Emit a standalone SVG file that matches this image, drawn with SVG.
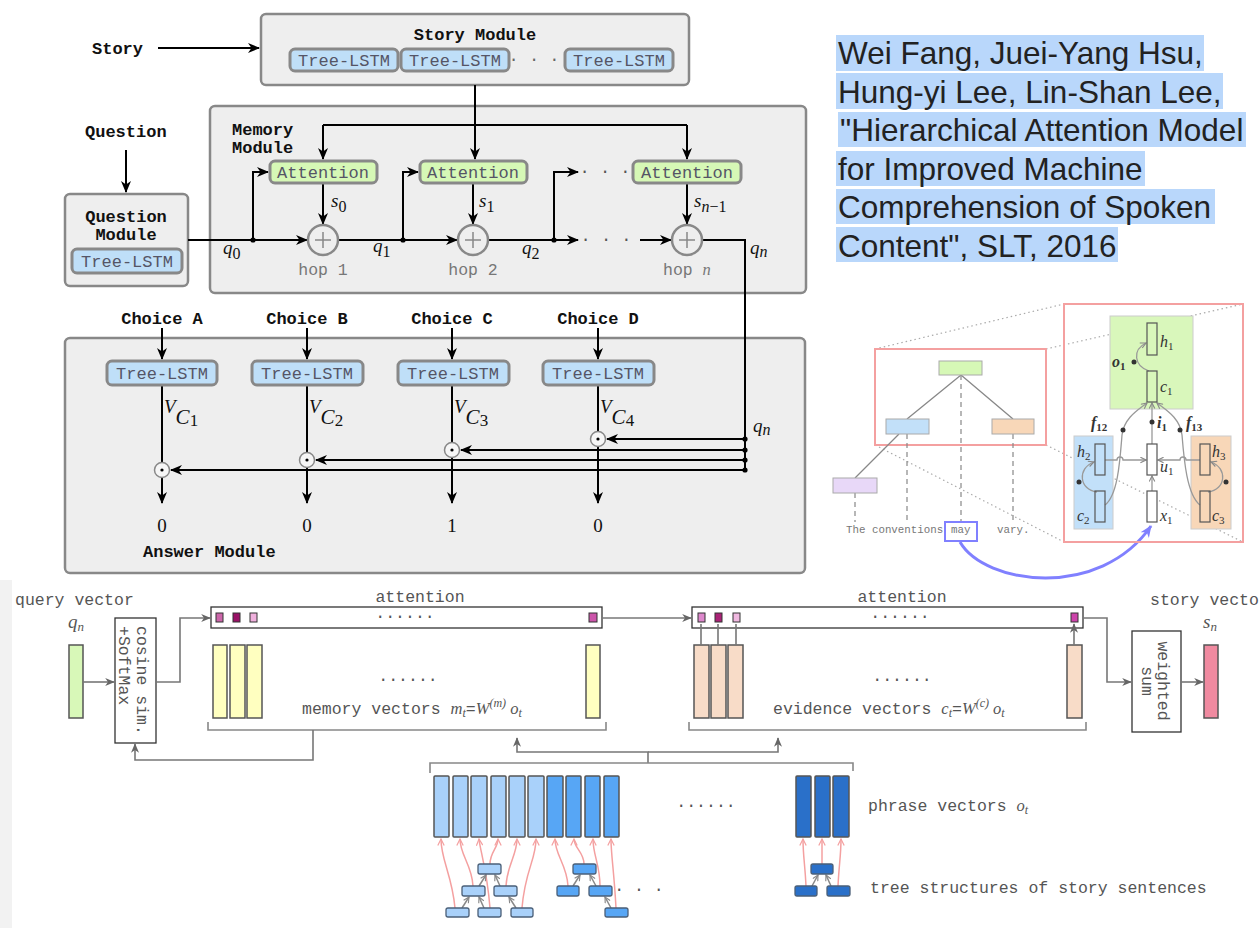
<svg xmlns="http://www.w3.org/2000/svg" width="1260" height="928" viewBox="0 0 1260 928">
<defs>
<marker id="a" viewBox="0 0 12 10" refX="11" refY="5" markerWidth="12" markerHeight="10" markerUnits="userSpaceOnUse" orient="auto"><path d="M0,0 L12,5 L0,10 L3.5,5 z" fill="#000"/></marker>
<marker id="g" viewBox="0 0 12 10" refX="11" refY="5" markerWidth="10" markerHeight="8" markerUnits="userSpaceOnUse" orient="auto"><path d="M0,0 L12,5 L0,10 L3.5,5 z" fill="#666"/></marker>
<marker id="p" viewBox="0 0 10 10" refX="9" refY="5" markerWidth="8" markerHeight="8" markerUnits="userSpaceOnUse" orient="auto"><path d="M1,1 L9,5 L1,9" fill="none" stroke="#f4a0a0" stroke-width="1.5"/></marker>
<marker id="gc" viewBox="0 0 10 10" refX="9" refY="5" markerWidth="7" markerHeight="7" markerUnits="userSpaceOnUse" orient="auto"><path d="M1,1 L9,5 L1,9" fill="none" stroke="#888" stroke-width="1.6"/></marker>
<marker id="bl" viewBox="0 0 12 10" refX="11" refY="5" markerWidth="12" markerHeight="10" markerUnits="userSpaceOnUse" orient="auto"><path d="M0,0 L12,5 L0,10 L3.5,5 z" fill="#8080ff"/></marker>
</defs>
<style>
.mod{fill:#eeeeee;stroke:#888;stroke-width:2.5}
.tl{fill:#bfdff8;stroke:#888;stroke-width:3}
.att{fill:#d6f8b6;stroke:#888;stroke-width:3}
.bt{font-family:"Liberation Mono","DejaVu Sans Mono",monospace;font-weight:bold;font-size:17px;fill:#111}
.bx{font-family:"Liberation Mono","DejaVu Sans Mono",monospace;font-size:17px;fill:#556}
.gt{font-family:"Liberation Mono","DejaVu Sans Mono",monospace;font-size:16.5px;fill:#555}
.m{font-family:"Liberation Serif","DejaVu Serif",serif;font-style:italic;font-size:19px;fill:#111}
.up{font-style:normal}
.c{stroke:#000;stroke-width:2;fill:none}
.gl{stroke:#777;stroke-width:1.6;fill:none}
.br{stroke:#888;stroke-width:1.6;fill:none}
.pk{stroke:#f4a0a0;stroke-width:1.5;fill:none}
.ga{stroke:#888;stroke-width:1.5;fill:none}
.lg{stroke:#999;stroke-width:1.3;fill:none}
.dot{stroke:#aaa;stroke-width:1.2;stroke-dasharray:1.5 3;fill:none}
.dsh{stroke:#888;stroke-width:1.2;stroke-dasharray:5 4;fill:none}
.pl{fill:#eee;stroke:#888;stroke-width:2.5}
.od{fill:#f6f6f6;stroke:#888;stroke-width:1.5}
.vec{stroke:#555;stroke-width:1.5}
.sq{stroke:#333;stroke-width:1}
.nd{stroke:#4a5f78;stroke-width:1.3}
.cell{fill:none;stroke:#555;stroke-width:1.2}
.lm{font-family:"Liberation Serif","DejaVu Serif",serif;font-style:italic;font-size:16px;fill:#333}
.ttl{font-family:"Liberation Sans",Arial,sans-serif;font-size:31.5px;fill:#222}
</style>
<rect width="1260" height="928" fill="#fff"/>
<rect x="0" y="580" width="12" height="348" fill="#f2f2f2"/>

<!-- Title -->
<g id="title">
<rect x="836" y="35" width="368" height="36" fill="#b9d7fb"/>
<rect x="836" y="73" width="387" height="36" fill="#b9d7fb"/>
<rect x="838" y="112" width="408" height="35" fill="#b9d7fb"/>
<rect x="836" y="151" width="309" height="35" fill="#b9d7fb"/>
<rect x="836" y="189" width="379" height="35" fill="#b9d7fb"/>
<rect x="836" y="227" width="282" height="35" fill="#b9d7fb"/>
<text class="ttl" x="838" y="64">Wei Fang, Juei-Yang Hsu,</text>
<text class="ttl" x="838" y="102.5">Hung-yi Lee, Lin-Shan Lee,</text>
<text class="ttl" x="840" y="141">"Hierarchical Attention Model</text>
<text class="ttl" x="838" y="179.5">for Improved Machine</text>
<text class="ttl" x="838" y="218">Comprehension of Spoken</text>
<text class="ttl" x="838" y="256.5">Content", SLT, 2016</text>
</g>

<!-- Modules backgrounds -->
<g id="story-module">
<rect class="mod" x="261" y="14" width="428" height="71" rx="5"/>
<text class="bt" x="475" y="40" text-anchor="middle">Story Module</text>
<rect class="tl" x="290" y="49" width="108" height="22" rx="5"/>
<text class="bx" x="344" y="66" text-anchor="middle">Tree-LSTM</text>
<rect class="tl" x="401" y="49" width="108" height="22" rx="5"/>
<text class="bx" x="455" y="66" text-anchor="middle">Tree-LSTM</text>
<text class="bx" x="534" y="64" text-anchor="middle" style="fill:#666">· · ·</text>
<rect class="tl" x="565" y="49" width="108" height="22" rx="5"/>
<text class="bx" x="619" y="66" text-anchor="middle">Tree-LSTM</text>
</g>
<g id="story-label"><text class="bt" x="92" y="54">Story</text></g>
<g id="question-label"><text class="bt" x="85" y="137">Question</text></g>

<g id="memory-module">
<rect class="mod" x="210" y="106" width="596" height="187" rx="5"/>
<text class="bt" x="232" y="135">Memory</text>
<text class="bt" x="232" y="153">Module</text>
</g>
<g id="question-module">
<rect class="mod" x="65" y="194" width="123" height="92" rx="5"/>
<text class="bt" x="126" y="222" text-anchor="middle">Question</text>
<text class="bt" x="126" y="240" text-anchor="middle">Module</text>
<rect class="tl" x="72" y="249" width="110" height="24" rx="5"/>
<text class="bx" x="127" y="267" text-anchor="middle">Tree-LSTM</text>
</g>
<g id="answer-module">
<rect class="mod" x="65" y="338" width="740" height="235" rx="5"/>
<text class="bt" x="143" y="557">Answer Module</text>
</g>

<!-- Connectors (top) -->
<g id="connectors">
<path class="c" d="M158,48 H259" marker-end="url(#a)"/>
<path class="c" d="M126,150 V192" marker-end="url(#a)"/>
<path class="c" d="M475,85 V159" marker-end="url(#a)"/>
<path class="c" d="M323,125 H687"/>
<path class="c" d="M323,125 V159" marker-end="url(#a)"/>
<path class="c" d="M687,125 V159" marker-end="url(#a)"/>
<path class="c" d="M188,240 H307" marker-end="url(#a)"/>
<path class="c" d="M253,240 V172 H268" marker-end="url(#a)"/>
<path class="c" d="M338,240 H457" marker-end="url(#a)"/>
<path class="c" d="M403,240 V172 H418" marker-end="url(#a)"/>
<path class="c" d="M488,240 H578" marker-end="url(#a)"/>
<path class="c" d="M554,240 V172 H578" marker-end="url(#a)"/>
<path class="c" d="M640,240 H671" marker-end="url(#a)"/>
<path class="c" d="M323,183 V224" marker-end="url(#a)"/>
<path class="c" d="M473,183 V224" marker-end="url(#a)"/>
<path class="c" d="M687,183 V224" marker-end="url(#a)"/>
<path class="c" d="M702,240 H745 V470"/>
<circle cx="253" cy="240" r="2.6" fill="#000"/>
<circle cx="403" cy="240" r="2.6" fill="#000"/>
<circle cx="554" cy="240" r="2.6" fill="#000"/>
<!-- answer -->
<path class="c" d="M162,328 V359" marker-end="url(#a)"/>
<path class="c" d="M307,328 V359" marker-end="url(#a)"/>
<path class="c" d="M452,328 V359" marker-end="url(#a)"/>
<path class="c" d="M598,328 V359" marker-end="url(#a)"/>
<path class="c" d="M162,385 V462.5 M162,477.5 V503" marker-end="url(#a)"/>
<path class="c" d="M307,385 V452.5 M307,467.5 V503" marker-end="url(#a)"/>
<path class="c" d="M452,385 V442.5 M452,457.5 V503" marker-end="url(#a)"/>
<path class="c" d="M598,385 V431.5 M598,446.5 V503" marker-end="url(#a)"/>
<path class="c" d="M745,439 H607" marker-end="url(#a)"/>
<path class="c" d="M745,450 H461" marker-end="url(#a)"/>
<path class="c" d="M745,460 H316" marker-end="url(#a)"/>
<path class="c" d="M745,470 H171" marker-end="url(#a)"/>
<circle cx="745" cy="439" r="2.6" fill="#000"/>
<circle cx="745" cy="450" r="2.6" fill="#000"/>
<circle cx="745" cy="460" r="2.6" fill="#000"/>
<circle cx="745" cy="470" r="2.6" fill="#000"/>
</g>

<!-- Attention nodes -->
<g id="attention-1"><rect class="att" x="270" y="161" width="107" height="22" rx="5"/><text class="bx" x="323" y="178" text-anchor="middle">Attention</text></g>
<g id="attention-2"><rect class="att" x="420" y="161" width="107" height="22" rx="5"/><text class="bx" x="473" y="178" text-anchor="middle">Attention</text></g>
<g id="attention-n"><rect class="att" x="633" y="161" width="108" height="22" rx="5"/><text class="bx" x="687" y="178" text-anchor="middle">Attention</text></g>
<g id="dots-mem"><text class="bx" x="605" y="176" text-anchor="middle" style="fill:#555">· · ·</text><text class="bx" x="606" y="244" text-anchor="middle" style="fill:#555">· · ·</text></g>

<!-- hops -->
<g id="hop-1"><circle class="pl" cx="323" cy="240" r="15"/><path d="M315,240 H331 M323,232 V248" stroke="#888" stroke-width="1.5"/><text class="gt" x="323" y="275" text-anchor="middle" style="fill:#777">hop 1</text></g>
<g id="hop-2"><circle class="pl" cx="473" cy="240" r="15"/><path d="M465,240 H481 M473,232 V248" stroke="#888" stroke-width="1.5"/><text class="gt" x="473" y="275" text-anchor="middle" style="fill:#777">hop 2</text></g>
<g id="hop-n"><circle class="pl" cx="687" cy="240" r="15"/><path d="M679,240 H695 M687,232 V248" stroke="#888" stroke-width="1.5"/><text class="gt" x="663" y="275" style="fill:#777">hop <tspan font-family="Liberation Serif,serif" font-style="italic">n</tspan></text></g>

<!-- memory labels -->
<g id="mem-labels">
<text class="m" x="331" y="207">s<tspan class="up" font-size="16" dy="5">0</tspan></text>
<text class="m" x="479" y="207">s<tspan class="up" font-size="16" dy="5">1</tspan></text>
<text class="m" x="694" y="207">s<tspan font-size="16" dy="5">n</tspan><tspan class="up" font-size="16">−1</tspan></text>
<text class="m" x="223" y="254">q<tspan class="up" font-size="16" dy="5">0</tspan></text>
<text class="m" x="373" y="252">q<tspan class="up" font-size="16" dy="5">1</tspan></text>
<text class="m" x="522" y="254">q<tspan class="up" font-size="16" dy="5">2</tspan></text>
<text class="m" x="750" y="254">q<tspan font-size="16" dy="3">n</tspan></text>
<text class="m" x="753" y="432">q<tspan font-size="16" dy="3">n</tspan></text>
</g>

<!-- choices -->
<g id="choice-a">
<text class="bt" x="162" y="324" text-anchor="middle">Choice A</text>
<rect class="tl" x="107" y="361" width="110" height="24" rx="5"/><text class="bx" x="162" y="379" text-anchor="middle">Tree-LSTM</text>
<text class="m" x="164" y="413" font-size="14">V<tspan font-size="21" dy="11">C</tspan><tspan class="up" font-size="17" dy="2">1</tspan></text>
<circle class="od" cx="162" cy="470" r="7.5"/><circle cx="162" cy="470" r="1.6"/>
<text class="m up" x="162" y="532" text-anchor="middle" font-size="18" style="font-style:normal">0</text>
</g>
<g id="choice-b">
<text class="bt" x="307" y="324" text-anchor="middle">Choice B</text>
<rect class="tl" x="252" y="361" width="111" height="24" rx="5"/><text class="bx" x="307" y="379" text-anchor="middle">Tree-LSTM</text>
<text class="m" x="309" y="413" font-size="14">V<tspan font-size="21" dy="11">C</tspan><tspan class="up" font-size="17" dy="2">2</tspan></text>
<circle class="od" cx="307" cy="460" r="7.5"/><circle cx="307" cy="460" r="1.6"/>
<text class="m" x="307" y="532" text-anchor="middle" font-size="18" style="font-style:normal">0</text>
</g>
<g id="choice-c">
<text class="bt" x="452" y="324" text-anchor="middle">Choice C</text>
<rect class="tl" x="398" y="361" width="111" height="24" rx="5"/><text class="bx" x="453" y="379" text-anchor="middle">Tree-LSTM</text>
<text class="m" x="454" y="413" font-size="14">V<tspan font-size="21" dy="11">C</tspan><tspan class="up" font-size="17" dy="2">3</tspan></text>
<circle class="od" cx="452" cy="450" r="7.5"/><circle cx="452" cy="450" r="1.6"/>
<text class="m" x="452" y="532" text-anchor="middle" font-size="18" style="font-style:normal">1</text>
</g>
<g id="choice-d">
<text class="bt" x="598" y="324" text-anchor="middle">Choice D</text>
<rect class="tl" x="543" y="361" width="111" height="24" rx="5"/><text class="bx" x="598" y="379" text-anchor="middle">Tree-LSTM</text>
<text class="m" x="600" y="413" font-size="14">V<tspan font-size="21" dy="11">C</tspan><tspan class="up" font-size="17" dy="2">4</tspan></text>
<circle class="od" cx="598" cy="439" r="7.5"/><circle cx="598" cy="439" r="1.6"/>
<text class="m" x="598" y="532" text-anchor="middle" font-size="18" style="font-style:normal">0</text>
</g>

<!-- Right panel: tree & LSTM cell -->
<g id="tree-panel">
<path class="dot" d="M875,349 L1064,304 M1046,349 L1243,304 M875,445 L1064,542 M1046,445 L1243,542"/>
<rect x="875" y="349" width="171" height="96" fill="none" stroke="#f4a0a0" stroke-width="2"/>
<path d="M961,375 L907,419 M961,375 L1013,419 M899,434 L855,478" stroke="#888" stroke-width="1.3"/>
<path class="dsh" d="M961,375 V522 M907,434 V522 M1013,434 V522 M855,493 V522"/>
<rect x="939" y="361" width="43" height="14" fill="#d6f8b6" stroke="#aaa" stroke-width="1"/>
<rect x="886" y="419" width="43" height="15" fill="#c2e0f9" stroke="#aaa" stroke-width="1"/>
<rect x="992" y="419" width="42" height="15" fill="#f8d7b8" stroke="#aaa" stroke-width="1"/>
<rect x="833" y="478" width="44" height="15" fill="#e8d8f8" stroke="#aaa" stroke-width="1"/>
<text x="846" y="533" font-family="Liberation Mono,monospace" font-size="10.8" fill="#777">The conventions</text>
<rect x="945" y="522" width="32" height="19" fill="none" stroke="#8080ff" stroke-width="2"/>
<text x="951" y="533" font-family="Liberation Mono,monospace" font-size="10.8" fill="#777">may</text>
<text x="997" y="533" font-family="Liberation Mono,monospace" font-size="10.8" fill="#777">vary.</text>
<path d="M960,542 C985,585 1100,600 1151,526" fill="none" stroke="#8080ff" stroke-width="3" marker-end="url(#bl)"/>
</g>
<g id="lstm-cell">
<rect x="1064" y="304" width="179" height="238" fill="none" stroke="#f4a0a0" stroke-width="2"/>
<rect x="1110" y="316" width="83" height="93" fill="#d9f7bb" stroke="#ccc" stroke-width="1"/>
<rect x="1074" y="436" width="39" height="93" fill="#c2e0f9" stroke="#ccc" stroke-width="1"/>
<rect x="1191" y="436" width="40" height="93" fill="#f8d7b8" stroke="#ccc" stroke-width="1"/>
<path class="lg" d="M1152,491 V476" marker-end="url(#gc)"/>
<path class="lg" d="M1152,444 V403" marker-end="url(#gc)"/>
<path class="lg" d="M1105,505 C1118,495 1120,460 1122,435 C1124,418 1138,410 1147,403" marker-end="url(#gc)"/>
<path class="lg" d="M1200,505 C1187,495 1184,460 1182,435 C1180,418 1166,410 1157,403" marker-end="url(#gc)"/>
<path class="lg" d="M1105,460 H1117 a3,3 0 0 1 6,0 H1146" marker-end="url(#gc)"/>
<path class="lg" d="M1200,460 H1186 a3,3 0 0 0 -6,0 H1158" marker-end="url(#gc)"/>
<path class="lg" d="M1149,371 C1134,366 1132,350 1146,343" marker-end="url(#gc)"/>
<path class="lg" d="M1097,492 C1079,490 1077,468 1094,462" marker-end="url(#gc)"/>
<path class="lg" d="M1208,492 C1226,490 1228,468 1211,462" marker-end="url(#gc)"/>
<rect class="cell" x="1147" y="323" width="10" height="32"/>
<rect class="cell" x="1147" y="371" width="10" height="31"/>
<rect class="cell" x="1095" y="444" width="10" height="31"/>
<rect class="cell" x="1095" y="491" width="10" height="31"/>
<rect class="cell" x="1147" y="444" width="10" height="31" style="fill:#fff"/>
<rect class="cell" x="1147" y="491" width="10" height="31" style="fill:#fff"/>
<rect class="cell" x="1200" y="444" width="10" height="31"/>
<rect class="cell" x="1200" y="491" width="10" height="31"/>
<g fill="#333"><circle cx="1134" cy="362" r="2.5"/><circle cx="1079" cy="482" r="2.5"/><circle cx="1226" cy="482" r="2.5"/><circle cx="1123" cy="430" r="2.5"/><circle cx="1152" cy="422" r="2.5"/><circle cx="1180" cy="430" r="2.5"/></g>
<text class="lm" x="1160" y="347">h<tspan class="up" font-size="11" dy="3">1</tspan></text>
<text class="lm" x="1160" y="392">c<tspan class="up" font-size="11" dy="3">1</tspan></text>
<text class="lm" x="1112" y="367" font-weight="bold">o<tspan class="up" font-size="11" dy="3">1</tspan></text>
<text class="lm" x="1091" y="428" font-weight="bold">f<tspan class="up" font-size="11" dy="3">12</tspan></text>
<text class="lm" x="1157" y="428" font-weight="bold">i<tspan class="up" font-size="11" dy="3">1</tspan></text>
<text class="lm" x="1186" y="428" font-weight="bold">f<tspan class="up" font-size="11" dy="3">13</tspan></text>
<text class="lm" x="1077" y="457">h<tspan class="up" font-size="11" dy="3">2</tspan></text>
<text class="lm" x="1160" y="472">u<tspan class="up" font-size="11" dy="3">1</tspan></text>
<text class="lm" x="1212" y="457">h<tspan class="up" font-size="11" dy="3">3</tspan></text>
<text class="lm" x="1077" y="521">c<tspan class="up" font-size="11" dy="3">2</tspan></text>
<text class="lm" x="1160" y="521">x<tspan class="up" font-size="11" dy="3">1</tspan></text>
<text class="lm" x="1212" y="521">c<tspan class="up" font-size="11" dy="3">3</tspan></text>
</g>

<!-- Bottom: attention pipeline -->
<g id="query-vector">
<text class="gt" x="15" y="605">query vector</text>
<text class="m" x="68" y="628" style="fill:#555" font-size="17">q<tspan font-size="13" dy="3">n</tspan></text>
<rect class="vec" x="69" y="645" width="14" height="73" fill="#d8f8b8"/>
</g>
<g id="cosine-box">
<rect x="115" y="618" width="41" height="125" fill="#fff" stroke="#333" stroke-width="1.3"/>
<g transform="translate(136,681) rotate(90)">
<text class="gt" x="-55" y="-1">cosine sim.</text>
<text class="gt" x="-55" y="17">+SoftMax</text>
</g>
</g>
<g id="attention-bar-1">
<text class="gt" x="420" y="602" text-anchor="middle">attention</text>
<rect x="211" y="607" width="391" height="21" fill="#fff" stroke="#333" stroke-width="1.3"/>
<rect class="sq" x="216" y="613" width="7" height="9" fill="#cc66aa"/>
<rect class="sq" x="233" y="613" width="7" height="9" fill="#991166"/>
<rect class="sq" x="250" y="613" width="7" height="9" fill="#f0b0dd"/>
<rect class="sq" x="589" y="613" width="8" height="9" fill="#cc55aa"/>
<text class="gt" x="405" y="621" text-anchor="middle">······</text>
</g>
<g id="memory-vectors">
<rect class="vec" x="213" y="645" width="14" height="73" fill="#ffffc0"/>
<rect class="vec" x="230" y="645" width="15" height="73" fill="#ffffc0"/>
<rect class="vec" x="247" y="645" width="15" height="73" fill="#ffffc0"/>
<rect class="vec" x="586" y="645" width="14" height="73" fill="#ffffc0"/>
<text class="gt" x="408" y="684" text-anchor="middle">······</text>
<text class="gt" x="302" y="714">memory vectors <tspan font-family="Liberation Serif,serif" font-style="italic">m</tspan><tspan font-family="Liberation Serif,serif" font-style="italic" font-size="12" dy="3">t</tspan><tspan dy="-3">=</tspan><tspan font-family="Liberation Serif,serif" font-style="italic">W</tspan><tspan font-family="Liberation Serif,serif" font-style="italic" font-size="12" dy="-7">(m)</tspan><tspan font-family="Liberation Serif,serif" font-style="italic" dy="7"> o</tspan><tspan font-family="Liberation Serif,serif" font-style="italic" font-size="12" dy="3">t</tspan></text>
</g>
<g id="attention-bar-2">
<text class="gt" x="902" y="602" text-anchor="middle">attention</text>
<rect x="692" y="607" width="391" height="21" fill="#fff" stroke="#333" stroke-width="1.3"/>
<rect class="sq" x="698" y="613" width="7" height="9" fill="#dd88cc"/>
<rect class="sq" x="715" y="613" width="7" height="9" fill="#aa2277"/>
<rect class="sq" x="733" y="613" width="7" height="9" fill="#f0b8e0"/>
<rect class="sq" x="1071" y="613" width="7" height="9" fill="#cc44aa"/>
<text class="gt" x="900" y="621" text-anchor="middle">······</text>
</g>
<g id="evidence-vectors">
<rect class="vec" x="694" y="645" width="15" height="73" fill="#f8dcc8"/>
<rect class="vec" x="711" y="645" width="15" height="73" fill="#f8dcc8"/>
<rect class="vec" x="728" y="645" width="15" height="73" fill="#f8dcc8"/>
<rect class="vec" x="1067" y="645" width="15" height="73" fill="#f8dcc8"/>
<text class="gt" x="902" y="684" text-anchor="middle">······</text>
<text class="gt" x="773" y="714">evidence vectors <tspan font-family="Liberation Serif,serif" font-style="italic">c</tspan><tspan font-family="Liberation Serif,serif" font-style="italic" font-size="12" dy="3">t</tspan><tspan dy="-3">=</tspan><tspan font-family="Liberation Serif,serif" font-style="italic">W</tspan><tspan font-family="Liberation Serif,serif" font-style="italic" font-size="12" dy="-7">(c)</tspan><tspan font-family="Liberation Serif,serif" font-style="italic" dy="7"> o</tspan><tspan font-family="Liberation Serif,serif" font-style="italic" font-size="12" dy="3">t</tspan></text>
</g>
<g id="weighted-sum">
<rect x="1132" y="631" width="49" height="101" fill="#fff" stroke="#333" stroke-width="1.3"/>
<g transform="translate(1156,681) rotate(90)">
<text class="gt" x="0" y="-2" text-anchor="middle">weighted</text>
<text class="gt" x="0" y="14" text-anchor="middle">sum</text>
</g>
</g>
<g id="story-vector">
<text class="gt" x="1150" y="605">story vector</text>
<text class="m" x="1203" y="628" style="fill:#555" font-size="17">s<tspan font-size="13" dy="3">n</tspan></text>
<rect class="vec" x="1204" y="645" width="14" height="73" fill="#f08aa0"/>
</g>

<g id="bottom-connectors">
<path class="gl" d="M83,682 H114" marker-end="url(#g)"/>
<path class="gl" d="M156,682 H180 V618 H210" marker-end="url(#g)"/>
<path class="gl" d="M602,618 H691" marker-end="url(#g)"/>
<path class="gl" d="M701,645 V624 M718,645 V624 M736,645 V624 M1074,645 V624" marker-end="url(#g)"/>
<path class="gl" d="M1083,618 H1107 V682 H1131" marker-end="url(#g)"/>
<path class="gl" d="M1181,682 H1203" marker-end="url(#g)"/>
<path class="br" d="M208,722 V730 H606 V722"/>
<path class="gl" d="M313,730 V760 H135 V744" marker-end="url(#g)"/>
<path class="br" d="M689,722 V730 H1086 V722"/>
<path class="gl" d="M648,763 V752 H517 V738" marker-end="url(#g)"/>
<path class="gl" d="M648,752 H778 V738" marker-end="url(#g)"/>
<path class="br" d="M430,773 V763 H853 V771"/>
</g>

<g id="phrase-vectors">
<g class="vec" fill="#a9d1fa">
<rect x="434" y="776" width="15" height="61" rx="1"/><rect x="453" y="776" width="15" height="61" rx="1"/><rect x="471" y="776" width="16" height="61" rx="1"/><rect x="491" y="776" width="15" height="61" rx="1"/><rect x="509" y="776" width="16" height="61" rx="1"/><rect x="528" y="776" width="16" height="61" rx="1"/>
</g>
<g class="vec" fill="#57a6f5">
<rect x="547" y="776" width="16" height="61" rx="1"/><rect x="566" y="776" width="15" height="61" rx="1"/><rect x="585" y="776" width="15" height="61" rx="1"/><rect x="604" y="776" width="15" height="61" rx="1"/>
</g>
<g class="vec" fill="#2a70c9">
<rect x="796" y="776" width="15" height="61" rx="1"/><rect x="815" y="776" width="15" height="61" rx="1"/><rect x="833" y="776" width="16" height="61" rx="1"/>
</g>
<text class="gt" x="706" y="810" text-anchor="middle">······</text>
<text class="gt" x="868" y="811">phrase vectors <tspan font-family="Liberation Serif,serif" font-style="italic">o</tspan><tspan font-family="Liberation Serif,serif" font-style="italic" font-size="12" dy="3">t</tspan></text>
</g>

<g id="story-trees">
<g class="pk">
<path d="M455,908 C452,875 441,860 441,839" marker-end="url(#p)"/>
<path d="M473,886 C472,865 460,855 460,839" marker-end="url(#p)"/>
<path d="M490,908 C487,870 480,850 479,839" marker-end="url(#p)"/>
<path d="M490,864 C490,852 498,848 498,839" marker-end="url(#p)"/>
<path d="M506,886 C507,865 517,855 517,839" marker-end="url(#p)"/>
<path d="M522,908 C525,870 536,860 536,839" marker-end="url(#p)"/>
<path d="M568,886 C567,865 555,855 555,839" marker-end="url(#p)"/>
<path d="M584,864 C584,852 574,848 574,839" marker-end="url(#p)"/>
<path d="M600,886 C600,865 593,855 593,839" marker-end="url(#p)"/>
<path d="M616,908 C614,870 611,855 611,839" marker-end="url(#p)"/>
<path d="M806,886 C805,865 803,855 803,839" marker-end="url(#p)"/>
<path d="M822,864 V839" marker-end="url(#p)"/>
<path d="M838,886 C839,865 841,855 841,839" marker-end="url(#p)"/>
</g>
<g class="ga">
<path d="M462,908 L469,897" marker-end="url(#gc)"/>
<path d="M484,908 L479,897" marker-end="url(#gc)"/>
<path d="M516,908 L509,897" marker-end="url(#gc)"/>
<path d="M479,886 L486,875" marker-end="url(#gc)"/>
<path d="M500,886 L495,875" marker-end="url(#gc)"/>
<path d="M573,886 L580,875" marker-end="url(#gc)"/>
<path d="M596,886 L590,875" marker-end="url(#gc)"/>
<path d="M611,908 L605,897" marker-end="url(#gc)"/>
<path d="M812,886 L818,875" marker-end="url(#gc)"/>
<path d="M831,886 L826,875" marker-end="url(#gc)"/>
</g>
<g class="nd" fill="#a9d1fa">
<rect x="478" y="864" width="23" height="10" rx="2"/>
<rect x="462" y="886" width="23" height="10" rx="2"/><rect x="494" y="886" width="23" height="10" rx="2"/>
<rect x="446" y="908" width="23" height="9" rx="2"/><rect x="478" y="908" width="23" height="9" rx="2"/><rect x="511" y="908" width="22" height="9" rx="2"/>
</g>
<g class="nd" fill="#57a6f5">
<rect x="573" y="864" width="23" height="10" rx="2"/>
<rect x="557" y="886" width="22" height="10" rx="2"/><rect x="589" y="886" width="23" height="10" rx="2"/>
<rect x="605" y="908" width="23" height="9" rx="2"/>
</g>
<g class="nd" fill="#2a70c9">
<rect x="811" y="864" width="22" height="10" rx="2"/>
<rect x="795" y="886" width="22" height="10" rx="2"/><rect x="827" y="886" width="23" height="10" rx="2"/>
</g>
<text class="gt" x="639" y="894" text-anchor="middle">· · ·</text>
<text class="gt" x="870" y="893">tree structures of story sentences</text>
</g>
</svg>
